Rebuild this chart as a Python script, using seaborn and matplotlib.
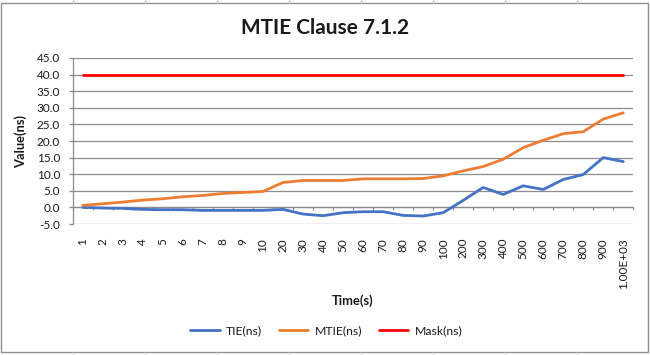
import numpy as np
import pandas as pd
import matplotlib
matplotlib.use('Agg')
import matplotlib.pyplot as plt
from matplotlib.patches import Rectangle
from matplotlib.lines import Line2D
import seaborn as sns

# categories on the time axis
time_labels = ['1', '2', '3', '4', '5', '6', '7', '8', '9', '10',
               '20', '30', '40', '50', '60', '70', '80', '90', '100',
               '200', '300', '400', '500', '600', '700', '800', '900', '1.00E+03']

# series values (ns)
tie_ns = [0.0, -0.2, -0.3, -0.6, -0.7, -0.7, -0.9, -0.9, -0.9, -0.9,
          -0.6, -2.0, -2.5, -1.6, -1.3, -1.3, -2.4, -2.6, -1.6,
          2.1, 6.0, 3.9, 6.5, 5.4, 8.4, 9.9, 15.0, 13.8]
mtie_ns = [0.6, 1.1, 1.6, 2.2, 2.6, 3.2, 3.6, 4.2, 4.5, 4.8,
           7.5, 8.1, 8.1, 8.1, 8.6, 8.6, 8.6, 8.7, 9.5,
           11.0, 12.3, 14.5, 18.0, 20.2, 22.2, 22.8, 26.6, 28.5]
mask_ns = [40.0] * len(time_labels)

series_names = ['TIE(ns)', 'MTIE(ns)', 'Mask(ns)']
series_colors = {'TIE(ns)': '#4472C4', 'MTIE(ns)': '#ED7D31', 'Mask(ns)': '#FF0000'}

y_ticks = np.arange(-5, 50, 5)

# long format table for seaborn
pos = np.arange(len(time_labels))
df = pd.concat([
    pd.DataFrame({'pos': pos, 'value': vals, 'series': name})
    for name, vals in zip(series_names, [tie_ns, mtie_ns, mask_ns])
], ignore_index=True)

sns.set_theme(style='white')
plt.rcParams['font.family'] = ['Lato', 'DejaVu Sans']

W, H = 650, 355
fig = plt.figure(figsize=(W / 100, H / 100), dpi=100)
ax = fig.add_axes([72.7 / W, 1 - 224 / H, 560.6 / W, 166 / H])

grid_col = '#8c8c8c'
text_col = '#1a1a1a'

sns.lineplot(data=df, x='pos', y='value', hue='series', hue_order=series_names,
             palette=series_colors, linewidth=2.0, ax=ax, legend=False, zorder=3)

ax.set_xlim(-0.5, len(time_labels) - 0.5)
ax.set_ylim(-5, 45)
ax.set_yticks(y_ticks)
ax.set_yticklabels([f'{v:.1f}' for v in y_ticks])
ax.set_xticks(pos)
ax.set_xticklabels(time_labels, rotation=90, ha='center', va='top')

ax.yaxis.grid(True, color=grid_col, linewidth=0.9)
ax.xaxis.grid(False)
for side in ['top', 'right', 'bottom']:
    ax.spines[side].set_visible(False)
ax.spines['left'].set_color(grid_col)
ax.spines['left'].set_linewidth(0.9)

ax.tick_params(axis='y', direction='out', length=3, width=0.9, color=grid_col,
               pad=6, labelsize=8.5, labelcolor=text_col, left=True)
ax.tick_params(axis='x', length=0, pad=10, labelsize=8.5, labelcolor=text_col)

# horizontal axis line crossing at zero, with tick marks between categories
sec = ax.secondary_xaxis(5 / 50)
sec.set_xticks(np.arange(-0.5, len(time_labels), 1.0))
sec.set_xticklabels([])
sec.tick_params(direction='out', length=2.5, width=0.9, color=grid_col)
sec.spines['bottom'].set_color(grid_col)
sec.spines['bottom'].set_linewidth(0.9)

ax.set_xlabel('Time(s)', fontsize=9.3, fontweight='bold', color=text_col)
ax.set_ylabel('Value(ns)', fontsize=9.3, fontweight='bold', color=text_col)
ax.xaxis.set_label_coords(0.5, (224 - 294) / 166)
ax.yaxis.set_label_coords((27 - 72.7) / 560.6, 0.5)

fig.text(0.5, 1 - 28 / H, 'MTIE Clause 7.1.2', ha='center', va='center',
         fontsize=15, fontweight='bold', color=text_col)

handles = [Line2D([0], [0], color=series_colors[n], linewidth=2.0) for n in series_names]
fig.legend(handles, series_names, loc='center', bbox_to_anchor=(0.502, 1 - 331 / H),
           ncol=3, frameon=False, fontsize=8.8, handlelength=2.4, columnspacing=1.4,
           handletextpad=0.5, labelcolor=text_col)

# chart area border and surrounding spreadsheet cells
fig.patches.append(Rectangle((1 / W, 1 - 352 / H), 647 / W, 349 / H, transform=fig.transFigure,
                             fill=False, edgecolor='#8f8f8f', linewidth=1.0))
for cx in [72.6, 144.5, 216.6, 288.6, 360.6, 432.8, 505, 577]:
    fig.add_artist(Line2D([cx / W, cx / W], [1 - 3 / H, 1.0], color='#c8c8c8', linewidth=0.8))
    fig.add_artist(Line2D([cx / W, cx / W], [0.0, 1 - 352 / H], color='#c8c8c8', linewidth=0.8))

fig.savefig('out.png', dpi=100, facecolor='white')
